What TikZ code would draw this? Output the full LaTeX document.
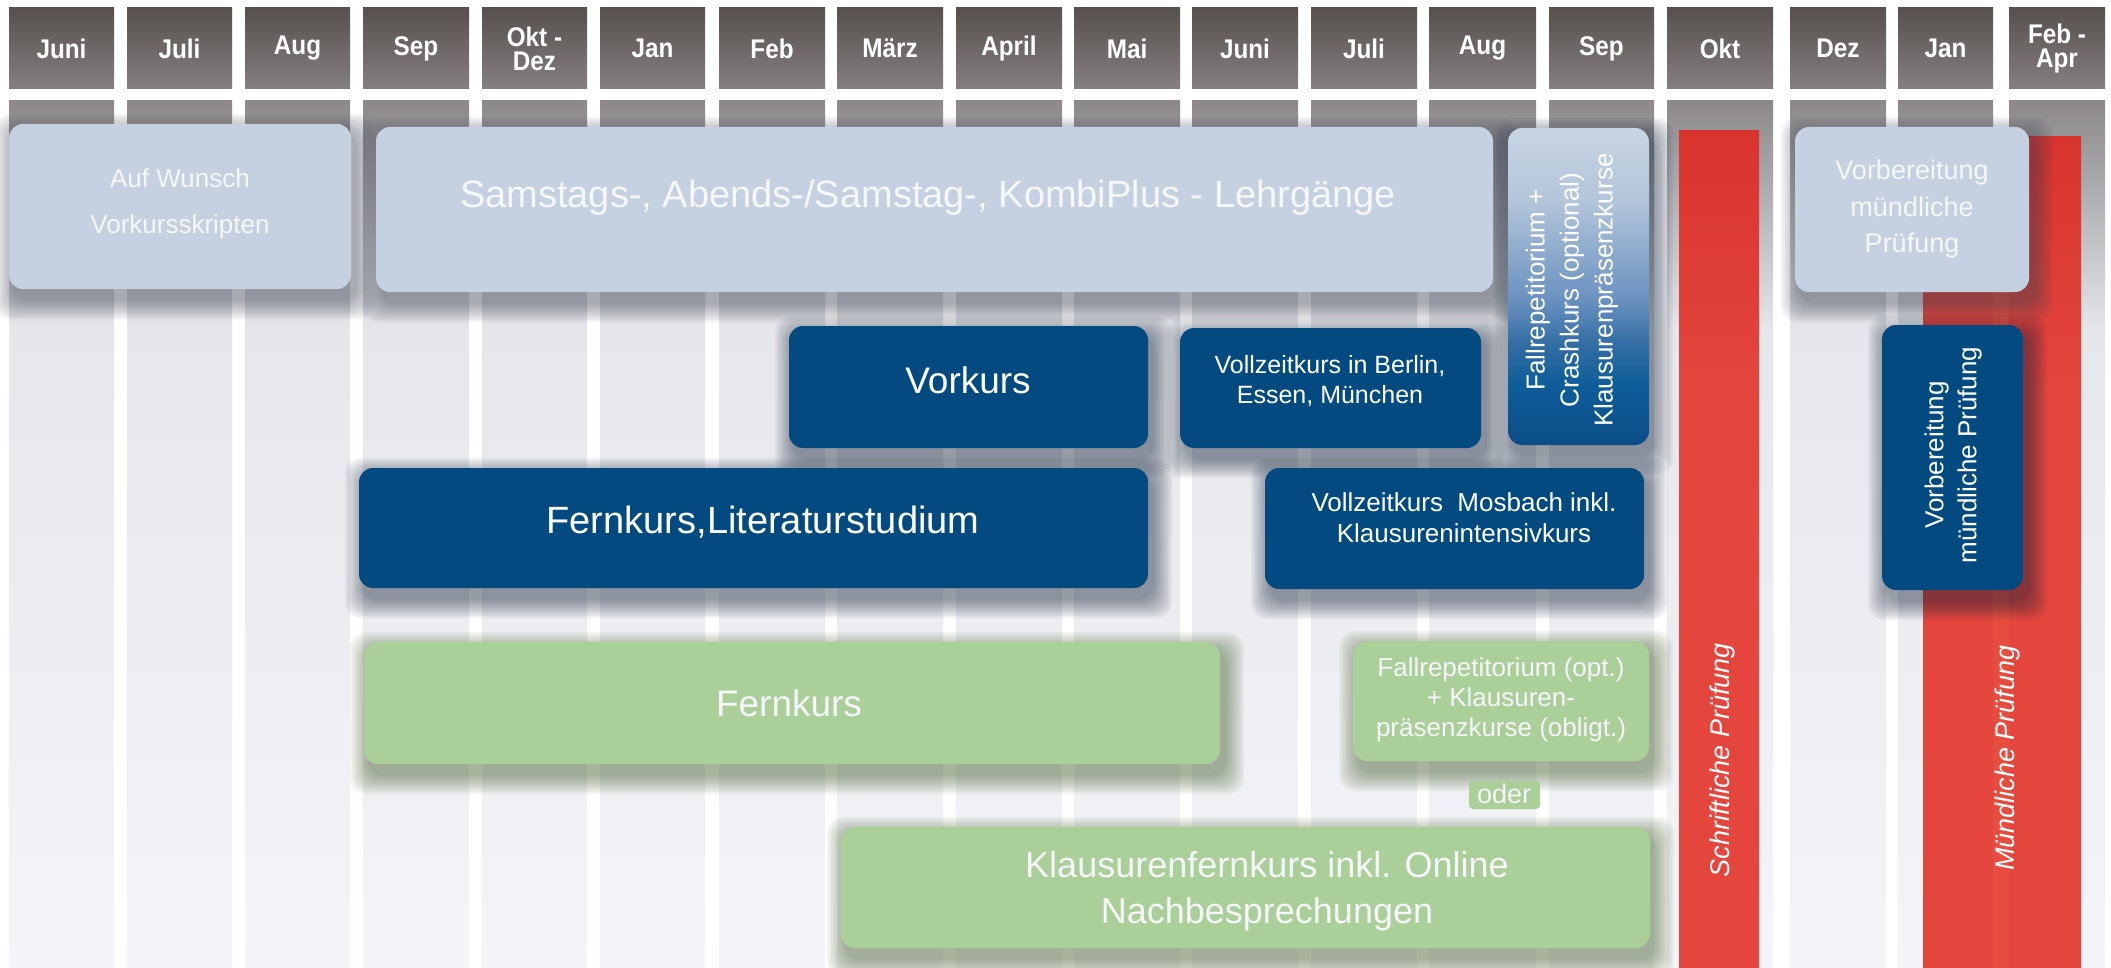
\documentclass[tikz,border=0pt]{standalone}
\usepackage{fontspec}
\setmainfont{Liberation Sans}
\newfontfamily\hdrfont{Liberation Sans}[FakeStretch=0.9]

\definecolor{hdrtop}{HTML}{56504E}
\definecolor{hdrbot}{HTML}{858080}
\definecolor{colT}{HTML}{8D898A}
\definecolor{colU}{HTML}{A6A4A7}
\definecolor{colM}{HTML}{E6E7EB}
\definecolor{colB}{HTML}{F4F5F8}
\definecolor{boxlight}{HTML}{C5D1E0}
\definecolor{boxdark}{HTML}{034A80}
\definecolor{boxgreen}{HTML}{ABCF98}
\definecolor{redT}{HTML}{D8342D}
\definecolor{redB}{HTML}{E4463E}
\definecolor{redstripe}{HTML}{EA523F}
\definecolor{lighttext}{HTML}{F5F7FA}
\definecolor{fA}{HTML}{0B4D86}
\definecolor{fB}{HTML}{0D5D99}
\definecolor{fC}{HTML}{336EA4}
\definecolor{fD}{HTML}{6A92C0}
\definecolor{fE}{HTML}{B3C5DA}
\definecolor{fF}{HTML}{C8D4E2}
\definecolor{shlight}{HTML}{3E4656}
\definecolor{shdark}{HTML}{14243A}
\definecolor{shgreen}{HTML}{3E5A26}

\pgfdeclareverticalshading{colshade}{100bp}{color(0bp)=(colB); color(25bp)=(colB); color(61.8bp)=(colM); color(71bp)=(colU); color(75bp)=(colT); color(100bp)=(colT)}
\pgfdeclareverticalshading{redshade}{100bp}{color(0bp)=(redB); color(25bp)=(redB); color(59bp)=(redB); color(75bp)=(redT); color(100bp)=(redT)}
\pgfdeclareverticalshading{fallshade}{100bp}{color(0bp)=(fA); color(25bp)=(fA); color(34.5bp)=(fB); color(41bp)=(fC); color(48bp)=(fD); color(63.5bp)=(fE); color(75bp)=(fF); color(100bp)=(fF)}

\tikzset{
  hdrcell/.style={top color=hdrtop, bottom color=hdrbot, text=white, inner sep=0pt, outer sep=0pt,
    minimum height=81pt, align=center, font=\hdrfont\bfseries\fontsize{27}{24}\selectfont},
  box/.style={rounded corners=14pt, inner sep=0pt, outer sep=0pt, draw=none},
  lightbox/.style={box, fill=boxlight},
  darkbox/.style={box, fill=boxdark},
  greenbox/.style={box, fill=boxgreen},
  fallbox/.style={box, shade, shading=fallshade},
  redbar/.style={inner sep=0pt, outer sep=0pt, draw=none, shade, shading=redshade},
  lbl/.style={inner sep=0pt, outer sep=0pt, align=center},
  ltxt/.style={lbl, text=lighttext},
  wtxt/.style={lbl, text=white},
}

\newcommand\monthcol[4]{%
  \shade[shading=colshade] (#2,101) rectangle (#3,968);
  \node[hdrcell, minimum width={(#3-#2)*1pt}] (#1) at ({(#2+#3)/2},48.5) {#4};
}
\newcommand\shadowfor[5]{%
  \foreach \k in {0,...,9}{%
    \fill[#5, fill opacity=0.055, rounded corners=16pt] ({#1+4-2*\k},{#2+8-2*\k}) rectangle ({#3+6+2*\k},{#4+12+2*\k});
  }%
}
\newcommand\cbox[7]{%
  \shadowfor{#2}{#3}{#4}{#5}{#7}
  \node[#6, minimum width={(#4-#2)*1pt}, minimum height={(#5-#3)*1pt}] (#1) at ({(#2+#4)/2},{(#3+#5)/2}) {};
}

\begin{document}
\begin{tikzpicture}[x=1pt, y=-1pt]
\useasboundingbox (0,0) rectangle (2111,968);
\fill[white] (0,0) rectangle (2111,968);

% month columns
\monthcol{c1}{9}{114}{Juni}
\monthcol{c2}{127}{232}{Juli}
\monthcol{c3}{245}{350}{Aug}
\monthcol{c4}{363}{469}{Sep}
\monthcol{c5}{482}{587}{Okt -\\Dez}
\monthcol{c6}{600}{705}{Jan}
\monthcol{c7}{719}{825}{Feb}
\monthcol{c8}{837}{943}{März}
\monthcol{c9}{956}{1062}{April}
\monthcol{c10}{1074}{1180}{Mai}
\monthcol{c11}{1192}{1298}{Juni}
\monthcol{c12}{1311}{1417}{Juli}
\monthcol{c13}{1429}{1536}{Aug}
\monthcol{c14}{1549}{1654}{Sep}
\monthcol{c15}{1667}{1773}{Okt}
\monthcol{c16}{1790}{1886}{Dez}
\monthcol{c17}{1898}{1993}{Jan}
\monthcol{c18}{2009}{2105}{Feb -\\Apr}

% exam bars
\node[redbar, minimum width=80pt, minimum height=837pt] (schrift) at (1719,549.5) {};
\node[redbar, minimum width=158pt, minimum height=831pt] (muend) at (2002,552.5) {};
\fill[redstripe, fill opacity=0.6] (1993,160) rectangle (2009,968);
\node[wtxt, rotate=90, font=\itshape\fontsize{27}{32}\selectfont] (schriftT) at (1722,760) {Schriftliche Prüfung};
\node[wtxt, rotate=90, font=\itshape\fontsize{27}{32}\selectfont] (muendT) at (2007,758) {Mündliche Prüfung};

% boxes
\cbox{auf}{9}{124}{351}{289}{lightbox}{shlight}
\node[ltxt, font=\fontsize{26}{46}\selectfont] (aufT) at (180,204) {Auf Wunsch\\Vorkursskripten};

\cbox{sams}{376}{127}{1493}{292}{lightbox}{shlight}
\node[ltxt, font=\fontsize{38}{46}\selectfont] (samsT) at (928,198) {Samstags-, Abends-/Samstag-, KombiPlus - Lehrgänge};

\cbox{fallv}{1508}{128}{1649}{445}{fallbox}{shdark}
\node[wtxt, rotate=90, font=\fontsize{26}{34}\selectfont] (fallvT) at (1572,290) {Fallrepetitorium +\\Crashkurs (optional)\\Klausurenpräsenzkurse};

\cbox{vorbL}{1795}{127}{2029}{292}{lightbox}{shlight}
\node[ltxt, font=\fontsize{27}{36.5}\selectfont] (vorbLT) at (1912,209.5) {Vorbereitung\\mündliche\\Prüfung};

\cbox{vorkurs}{789}{326}{1148}{448}{darkbox}{shdark}
\node[wtxt, font=\fontsize{37}{44}\selectfont] (vorkursT) at (968,380) {Vorkurs};

\cbox{berlin}{1180}{328}{1481}{448}{darkbox}{shdark}
\node[wtxt, font=\fontsize{25}{30}\selectfont] (berlinT) at (1330,381) {Vollzeitkurs in Berlin,\\Essen, München};

\cbox{fernlit}{359}{468}{1148}{588}{darkbox}{shdark}
\node[wtxt, font=\fontsize{38}{46}\selectfont] (fernlitT) at (763,522) {Fernkurs,Literaturstudium};

\cbox{mosbach}{1265}{468}{1644}{589}{darkbox}{shdark}
\node[wtxt, font=\fontsize{26}{31}\selectfont] (mosbachT) at (1464,518) {Vollzeitkurs~~Mosbach inkl.\\Klausurenintensivkurs};

\cbox{fern}{364}{642}{1220}{764}{greenbox}{shgreen}
\node[ltxt, font=\fontsize{37}{44}\selectfont] (fernT) at (789,703) {Fernkurs};

\cbox{fallg}{1353}{641}{1649}{761}{greenbox}{shgreen}
\node[ltxt, font=\fontsize{26}{30}\selectfont] (fallgT) at (1501,700) {Fallrepetitorium (opt.)\\+ Klausuren-\\präsenzkurse (obligt.)};

\node[greenbox, rounded corners=4pt, minimum width=71pt, minimum height=28pt] (oder) at (1504.5,795) {};
\node[ltxt, font=\fontsize{27}{32}\selectfont] (oderT) at (1504,794) {oder};

\cbox{klaus}{841}{827}{1650}{948}{greenbox}{shgreen}
\node[ltxt, font=\fontsize{36}{46}\selectfont] (klausT) at (1267,891) {Klausurenfernkurs inkl. Online\\Nachbesprechungen};

\cbox{vorbD}{1882}{325}{2023}{590}{darkbox}{shdark}
\node[wtxt, rotate=90, font=\fontsize{26}{33}\selectfont] (vorbDT) at (1953,455) {Vorbereitung\\mündliche Prüfung};
\end{tikzpicture}
\end{document}
